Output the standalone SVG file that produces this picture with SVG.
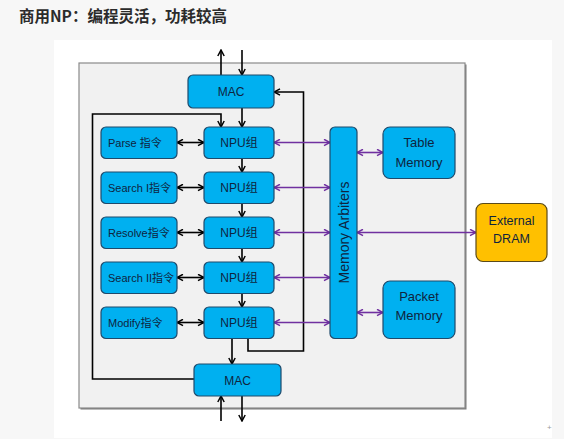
<svg xmlns="http://www.w3.org/2000/svg" width="564" height="439" viewBox="0 0 564 439">
<style>
.box{fill:#00b0f0;stroke:#1f4a6b;stroke-width:1.2}
.ext{fill:#ffc000;stroke:#5a4a1a;stroke-width:1.2}
.t{font-family:"Liberation Sans","Noto Sans CJK SC",sans-serif;fill:#0f243e}
.c{text-anchor:middle}
.blk{fill:none;stroke:#000;stroke-width:1.6}
.pur{fill:none;stroke:#7030a0;stroke-width:1.6}
</style>
<defs>
<marker id="ab" viewBox="0 0 8 8" refX="7" refY="4" markerWidth="8" markerHeight="8" markerUnits="userSpaceOnUse" orient="auto-start-reverse">
<path d="M1,0.8 L7,4 L1,7.2" fill="none" stroke="#000" stroke-width="1.5"/>
</marker>
<marker id="ap" viewBox="0 0 8 8" refX="7" refY="4" markerWidth="8" markerHeight="8" markerUnits="userSpaceOnUse" orient="auto-start-reverse">
<path d="M1,0.8 L7,4 L1,7.2" fill="none" stroke="#7030a0" stroke-width="1.5"/>
</marker>
</defs>
<rect x="0" y="0" width="564" height="439" fill="#f7f7f7"/>
<rect x="54" y="40" width="498" height="398" fill="#ffffff"/>
<text x="19" y="22" font-family="'Noto Sans CJK SC','Noto Sans CJK TC',sans-serif" font-weight="bold" font-size="15.5" fill="#2b2b2b">商用NP：编程灵活，功耗较高</text>
<text x="547" y="430" font-family="'Liberation Sans',sans-serif" font-size="8" fill="#9a9a9a">+</text>
<g id="frame">
<rect x="80.5" y="64.5" width="386" height="345" fill="#7a7a7a"/>
<rect x="79" y="63" width="386" height="345" fill="#f1f1f1" stroke="#8a8a8a" stroke-width="1.2"/>
</g>
<g id="connectors">
<line class="blk" x1="221" y1="75" x2="221" y2="50" marker-end="url(#ab)"/>
<line class="blk" x1="242" y1="50" x2="242" y2="75" marker-end="url(#ab)"/>
<line class="blk" x1="242" y1="108" x2="242" y2="127" marker-end="url(#ab)"/>
<line class="blk" x1="242" y1="158.5" x2="242" y2="172" marker-end="url(#ab)"/>
<line class="blk" x1="242" y1="203.5" x2="242" y2="217" marker-end="url(#ab)"/>
<line class="blk" x1="242" y1="248.5" x2="242" y2="262" marker-end="url(#ab)"/>
<line class="blk" x1="242" y1="293.5" x2="242" y2="307" marker-end="url(#ab)"/>
<line class="blk" x1="232" y1="338.5" x2="232" y2="364" marker-end="url(#ab)"/>
<polyline class="blk" points="194,379 92.5,379 92.5,114 221,114 221,127" marker-end="url(#ab)"/>
<polyline class="blk" points="248,338.5 248,351 303.5,351 303.5,92 274,92" marker-end="url(#ab)"/>
<line class="blk" x1="221" y1="421" x2="221" y2="396" marker-end="url(#ab)"/>
<line class="blk" x1="242" y1="396" x2="242" y2="421" marker-end="url(#ab)"/>
<line class="blk" x1="177" y1="142.5" x2="204" y2="142.5" marker-start="url(#ab)" marker-end="url(#ab)"/>
<line class="blk" x1="177" y1="187.5" x2="204" y2="187.5" marker-start="url(#ab)" marker-end="url(#ab)"/>
<line class="blk" x1="177" y1="232.5" x2="204" y2="232.5" marker-start="url(#ab)" marker-end="url(#ab)"/>
<line class="blk" x1="177" y1="277.5" x2="204" y2="277.5" marker-start="url(#ab)" marker-end="url(#ab)"/>
<line class="blk" x1="177" y1="322.5" x2="204" y2="322.5" marker-start="url(#ab)" marker-end="url(#ab)"/>
<line class="pur" x1="274" y1="142.5" x2="330" y2="142.5" marker-start="url(#ap)" marker-end="url(#ap)"/>
<line class="pur" x1="274" y1="187.5" x2="330" y2="187.5" marker-start="url(#ap)" marker-end="url(#ap)"/>
<line class="pur" x1="274" y1="232.5" x2="330" y2="232.5" marker-start="url(#ap)" marker-end="url(#ap)"/>
<line class="pur" x1="274" y1="277.5" x2="330" y2="277.5" marker-start="url(#ap)" marker-end="url(#ap)"/>
<line class="pur" x1="274" y1="322.5" x2="330" y2="322.5" marker-start="url(#ap)" marker-end="url(#ap)"/>
<line class="pur" x1="357" y1="152.5" x2="383" y2="152.5" marker-start="url(#ap)" marker-end="url(#ap)"/>
<line class="pur" x1="357" y1="232.5" x2="476" y2="232.5" marker-start="url(#ap)" marker-end="url(#ap)"/>
<line class="pur" x1="357" y1="312.5" x2="383" y2="312.5" marker-start="url(#ap)" marker-end="url(#ap)"/>
</g>
<g id="mac-top"><rect class="box" x="188" y="75" width="86" height="33" rx="5"/><text class="t c" x="231" y="95.5" font-size="12">MAC</text></g>
<g id="mac-bottom"><rect class="box" x="194" y="364" width="87" height="32" rx="5"/><text class="t c" x="237.5" y="384.5" font-size="12">MAC</text></g>
<g id="parse"><rect class="box" x="101" y="127" width="76" height="31.5" rx="5"/><text class="t" x="108" y="146.5" font-size="11">Parse 指令</text></g>
<g id="search1"><rect class="box" x="101" y="172" width="76" height="31.5" rx="5"/><text class="t" x="108" y="191.5" font-size="11">Search I指令</text></g>
<g id="resolve"><rect class="box" x="101" y="217" width="76" height="31.5" rx="5"/><text class="t" x="108" y="236.5" font-size="11">Resolve指令</text></g>
<g id="search2"><rect class="box" x="101" y="262" width="76" height="31.5" rx="5"/><text class="t" x="108" y="281.5" font-size="11">Search II指令</text></g>
<g id="modify"><rect class="box" x="101" y="307" width="76" height="31.5" rx="5"/><text class="t" x="108" y="326.5" font-size="11">Modify指令</text></g>
<g id="npu1"><rect class="box" x="204" y="127" width="70" height="31.5" rx="5"/><text class="t c" x="239" y="147" font-size="12">NPU组</text></g>
<g id="npu2"><rect class="box" x="204" y="172" width="70" height="31.5" rx="5"/><text class="t c" x="239" y="192" font-size="12">NPU组</text></g>
<g id="npu3"><rect class="box" x="204" y="217" width="70" height="31.5" rx="5"/><text class="t c" x="239" y="237" font-size="12">NPU组</text></g>
<g id="npu4"><rect class="box" x="204" y="262" width="70" height="31.5" rx="5"/><text class="t c" x="239" y="282" font-size="12">NPU组</text></g>
<g id="npu5"><rect class="box" x="204" y="307" width="70" height="31.5" rx="5"/><text class="t c" x="239" y="327" font-size="12">NPU组</text></g>
<g id="arbiters"><rect class="box" x="330" y="127" width="27" height="211.5" rx="5"/><text class="t c" x="0" y="0" font-size="14" transform="translate(348.5,232.5) rotate(-90)">Memory Arbiters</text></g>
<g id="table-memory"><rect class="box" x="383" y="127" width="72" height="51.5" rx="7"/><text class="t c" x="419" y="146.5" font-size="13">Table</text><text class="t c" x="419" y="166.5" font-size="13">Memory</text></g>
<g id="packet-memory"><rect class="box" x="383" y="281" width="72" height="57.5" rx="7"/><text class="t c" x="419" y="301" font-size="13">Packet</text><text class="t c" x="419" y="320" font-size="13">Memory</text></g>
<g id="external-dram"><rect class="ext" x="476" y="203.5" width="71" height="58" rx="7"/><text class="t c" x="511.5" y="224.5" font-size="12.5">External</text><text class="t c" x="511.5" y="243" font-size="12.5">DRAM</text></g>
</svg>
